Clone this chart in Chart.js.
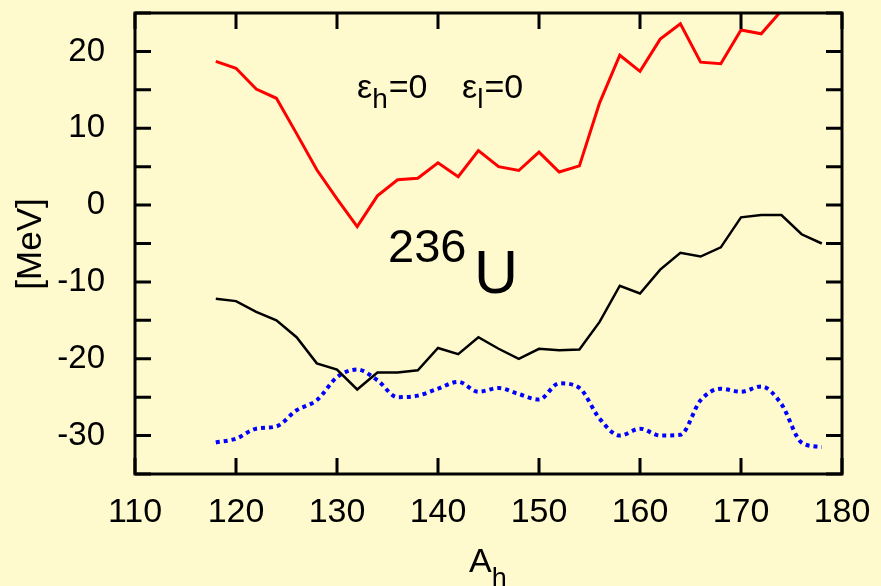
<!DOCTYPE html>
<html>
<head>
<meta charset="utf-8">
<script src="https://cdn.jsdelivr.net/npm/chart.js@4.4.0/dist/chart.umd.min.js"></script>
<style>
  html, body { margin: 0; padding: 0; background: #fffacd; }
  #wrap { width: 881px; height: 586px; }
</style>
</head>
<body>
<div id="wrap"><canvas id="chart" width="881" height="586"></canvas></div>
<script>
// A_h values along the x axis
const massNumbers = [118, 120, 122, 124, 126, 128, 130, 132, 134, 136, 138, 140, 142, 144, 146, 148,
                     150, 152, 154, 156, 158, 160, 162, 164, 166, 168, 170, 172, 174, 176, 178];

// red curve (goes off the top near the end)
const redValues = [18.7, 17.8, 15.1, 13.9, 9.3, 4.6, 0.8, -2.8, 1.2, 3.3, 3.5, 5.5, 3.7, 7.1, 5.0, 4.5,
                   6.9, 4.3, 5.1, 13.3, 19.5, 17.4, 21.6, 23.6, 18.6, 18.4, 22.8, 22.3, 25.3, 28.0, 30.0];

// black curve
const blackValues = [-12.2, -12.5, -13.9, -15.0, -17.2, -20.6, -21.4, -24.0, -21.8, -21.8, -21.5, -18.6, -19.4, -17.2, -18.7, -20.0,
                     -18.7, -18.9, -18.8, -15.2, -10.5, -11.5, -8.4, -6.2, -6.7, -5.5, -1.6, -1.3, -1.3, -3.8, -5.0];

// blue dotted curve
const blueValues = [-30.9, -30.4, -29.1, -28.8, -26.7, -25.4, -22.4, -21.4, -22.8, -25.0, -24.8, -23.9, -23.0, -24.3, -23.8, -24.6,
                    -25.3, -23.2, -23.8, -27.8, -30.0, -29.1, -30.0, -29.9, -25.4, -23.9, -24.3, -23.6, -25.9, -30.9, -31.5];

const xTicks = [110, 120, 130, 140, 150, 160, 170, 180];
const yTicks = [-35, -30, -25, -20, -15, -10, -5, 0, 5, 10, 15, 20, 25];

const FONT = '"Liberation Sans", Arial, Helvetica, sans-serif';

function toPoints(vals) {
  return massNumbers.map((x, i) => ({ x: x, y: vals[i] }));
}

// text with a lowered subscript
function subText(ctx, base, sub, x, y, size, subSize, drop) {
  ctx.font = size + 'px ' + FONT;
  ctx.fillText(base, x, y);
  x += ctx.measureText(base).width;
  ctx.font = subSize + 'px ' + FONT;
  ctx.fillText(sub, x, y + drop);
  return x + ctx.measureText(sub).width;
}

// frame, inward ticks on all four sides, and the text labels
const framePlugin = {
  id: 'frame',
  afterDraw(chart) {
    const { ctx, chartArea: a, scales } = chart;
    const tl = 16;
    ctx.save();
    ctx.strokeStyle = '#000';
    ctx.lineWidth = 3;
    ctx.beginPath();
    xTicks.forEach(v => {
      const px = scales.x.getPixelForValue(v);
      ctx.moveTo(px, a.bottom); ctx.lineTo(px, a.bottom - tl);
      ctx.moveTo(px, a.top); ctx.lineTo(px, a.top + tl);
    });
    yTicks.forEach(v => {
      const py = scales.y.getPixelForValue(v);
      ctx.moveTo(a.left, py); ctx.lineTo(a.left + tl, py);
      ctx.moveTo(a.right, py); ctx.lineTo(a.right - tl, py);
    });
    ctx.stroke();
    ctx.strokeRect(a.left, a.top, a.right - a.left, a.bottom - a.top);

    ctx.fillStyle = '#000';
    ctx.textBaseline = 'alphabetic';
    ctx.textAlign = 'left';

    // epsilon labels
    let x = subText(ctx, '\u03b5', 'h', 357, 98, 34, 28, 10);
    ctx.font = '34px ' + FONT;
    ctx.fillText('=0', x + 1, 98);
    x = subText(ctx, '\u03b5', 'l', 462, 98, 34, 28, 10);
    ctx.font = '34px ' + FONT;
    ctx.fillText('=0', x + 1, 98);

    // 236U
    ctx.font = '47px ' + FONT;
    ctx.fillText('236', 388, 262);
    ctx.font = '61px ' + FONT;
    ctx.fillText('U', 474, 293);

    // x title A_h
    subText(ctx, 'A', 'h', 469, 572, 34, 27, 15);

    // y title
    ctx.translate(41, 244);
    ctx.rotate(-Math.PI / 2);
    ctx.textAlign = 'center';
    ctx.font = '35px ' + FONT;
    ctx.fillText('[MeV]', 0, 0);
    ctx.restore();
  }
};

new Chart(document.getElementById('chart'), {
  type: 'line',
  data: {
    datasets: [
      {
        data: toPoints(redValues),
        borderColor: '#ff0000',
        borderWidth: 3,
        pointRadius: 0,
        tension: 0
      },
      {
        data: toPoints(blackValues),
        borderColor: '#000000',
        borderWidth: 2.5,
        pointRadius: 0,
        tension: 0
      },
      {
        data: toPoints(blueValues),
        borderColor: '#0000ff',
        borderWidth: 4,
        borderDash: [4, 4],
        pointRadius: 0,
        cubicInterpolationMode: 'monotone'
      }
    ]
  },
  options: {
    responsive: false,
    animation: false,
    layout: { padding: { top: 13, right: 39, left: 0, bottom: 0 } },
    plugins: { legend: { display: false }, tooltip: { enabled: false } },
    scales: {
      x: {
        type: 'linear',
        min: 110,
        max: 180,
        grid: { display: false },
        border: { display: false },
        afterBuildTicks: s => { s.ticks = xTicks.map(v => ({ value: v })); },
        afterFit: s => { s.height = 112; s.paddingLeft = 0; s.paddingRight = 0; },
        ticks: {
          color: '#000',
          padding: 10,
          maxRotation: 0,
          autoSkip: false,
          font: { family: FONT, size: 34 }
        }
      },
      y: {
        min: -35,
        max: 25,
        grid: { display: false },
        border: { display: false },
        afterBuildTicks: s => { s.ticks = yTicks.map(v => ({ value: v })); },
        afterFit: s => { s.width = 135; s.paddingTop = 0; s.paddingBottom = 0; },
        ticks: {
          color: '#000',
          padding: 22,
          autoSkip: false,
          font: { family: FONT, size: 33 },
          callback: v => (v % 10 === 0 && v !== -35 && v !== 25 ? String(v) : '')
        }
      }
    }
  },
  plugins: [framePlugin]
});
</script>
</body>
</html>
